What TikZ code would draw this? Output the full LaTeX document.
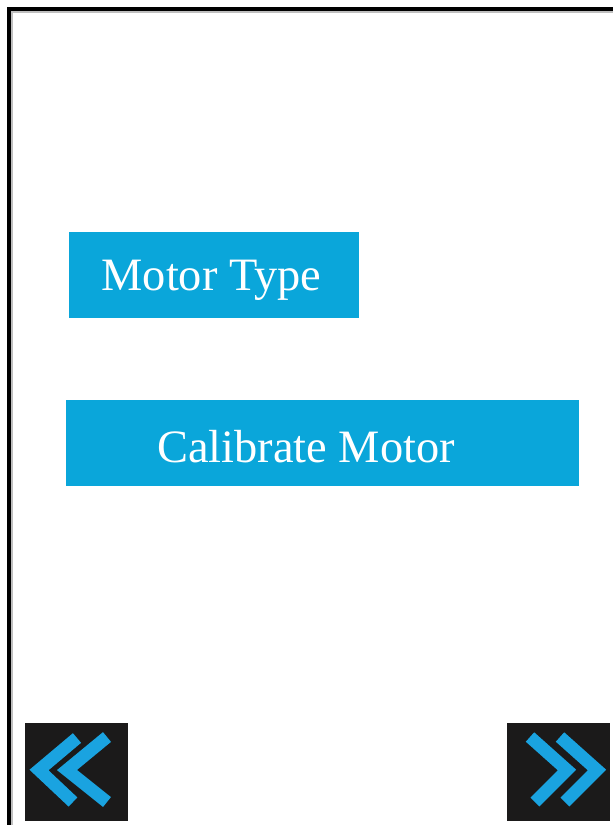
\documentclass[tikz,border=0pt]{standalone}
\usepackage{fontspec}
\setmainfont{Liberation Serif}
\usetikzlibrary{positioning}
\definecolor{btnblue}{HTML}{0AA6DA}
\definecolor{navblack}{HTML}{1B1A1A}
\definecolor{chevblue}{HTML}{1AA3E0}
\tikzset{
	menutext/.style={text=white, inner sep=0pt, font=\fontsize{33}{40}\selectfont},
	navbtn/.style={fill=navblack, minimum width=2.575cm, minimum height=2.425cm, inner sep=0pt},
	chev/.style={draw=chevblue, line width=9pt, line cap=butt, line join=miter}
}
\begin{document}
\begin{tikzpicture}[x=0.025cm, y=-0.025cm]
		\useasboundingbox (0,0) rectangle (613,825);
		\def\fw{2.2pt};
		
		\draw[line width=1pt, gray!50] (12,825) -- (12,12) -- (613,12);
		\draw[line width=\fw] (9,825) -- (9,9) -- (613,9);
		
		\fill[btnblue] (69,232) rectangle (359,318);
		\node[menutext] (motortype) at (211.5,280) {Motor Type};
		\fill[btnblue] (66,400) rectangle (579,486);
		\node[menutext] (calibrate) at (306,447) {Calibrate Motor};
		
		\node[navbtn] (prev) at (76.5,772) {};
		\node[navbtn] (next) at (558.5,772) {};
		
		\draw[chev] (77,738) -- (39,770) -- (73,802);
		\draw[chev] (107,737) -- (67,770) -- (107,802);
		\draw[chev] (530,737) -- (567,770) -- (535,802);
		\draw[chev] (560,737) -- (597,770) -- (565,802);
	\end{tikzpicture}
\end{document}
